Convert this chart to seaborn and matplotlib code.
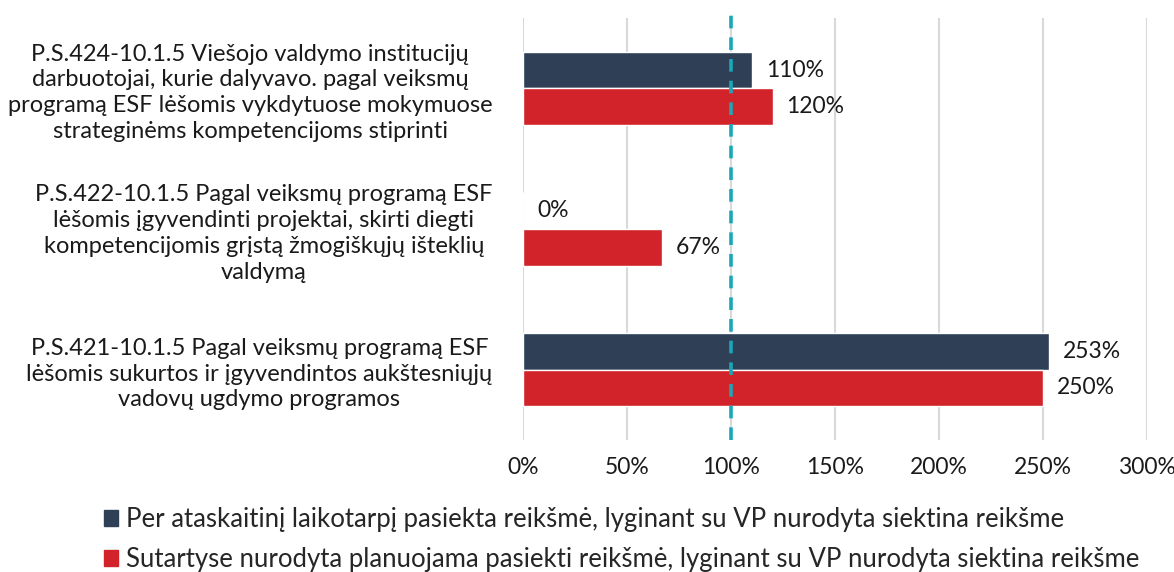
import pandas as pd
import numpy as np
import matplotlib
matplotlib.use("Agg")
import matplotlib.pyplot as plt
import seaborn as sns

# Données
categories = [
    "P.S.424-10.1.5 Viešojo valdymo institucijų\ndarbuotojai, kurie dalyvavo. pagal veiksmų\nprogramą ESF lėšomis vykdytuose mokymuose\nstrateginėms kompetencijoms stiprinti",
    "P.S.422-10.1.5 Pagal veiksmų programą ESF\nlėšomis įgyvendinti projektai, skirti diegti\nkompetencijomis grįstą žmogiškųjų išteklių\nvaldymą",
    "P.S.421-10.1.5 Pagal veiksmų programą ESF\nlėšomis sukurtos ir įgyvendintos aukštesniųjų\nvadovų ugdymo programos",
]
series = [
    "Per ataskaitinį laikotarpį pasiekta reikšmė, lyginant su VP nurodyta siektina reikšme",
    "Sutartyse nurodyta planuojama pasiekti reikšmė, lyginant su VP nurodyta siektina reikšme",
]
pasiekta = [1.10, 0.00, 2.53]
planuojama = [1.20, 0.67, 2.50]
colors = ["#2E3F56", "#D2232A"]
xticks = [0, 0.5, 1.0, 1.5, 2.0, 2.5, 3.0]

df = pd.DataFrame({
    "cat": categories * 2,
    "serie": [series[0]] * 3 + [series[1]] * 3,
    "val": pasiekta + planuojama,
})

sns.set_style("white")
plt.rcParams["font.family"] = ["Lato", "DejaVu Sans"]
plt.rcParams["font.size"] = 16.5

fig = plt.figure(figsize=(11.74, 5.72), dpi=100)
ax = fig.add_axes([523 / 1174, 1 - 440 / 572, (1147 - 523) / 1174, (440 - 18) / 572])

sns.barplot(data=df, y="cat", x="val", hue="serie", order=categories,
            hue_order=series, palette=colors, orient="h", width=0.52,
            saturation=1, ax=ax, legend=False)

# Valeurs au bout des barres
for cont in ax.containers:
    ax.bar_label(cont, fmt=lambda v: f"{v:.0%}", padding=10, fontsize=16.5, color="#1a1a1a")

ax.set_xlim(0, 3)
ax.set_xticks(xticks)
ax.set_xticklabels([f"{t:.0%}" for t in xticks])
ax.set_xlabel("")
ax.set_ylabel("")
ax.xaxis.grid(True, color="#D9D9D9", linewidth=1.5)
ax.set_axisbelow(True)
for s in ax.spines.values():
    s.set_visible(False)
ax.tick_params(axis="both", length=0, colors="#1a1a1a")
ax.tick_params(axis="x", pad=12)
ax.tick_params(axis="y", pad=22)
for lab in ax.get_yticklabels():
    lab.set_multialignment("center")
    lab.set_linespacing(1.28)
    lab.set_fontsize(17)

# Ligne cible 100%
ax.axvline(1.0, ymin=0, ymax=1.02, color="#1AA7B8", linewidth=2.6,
           linestyle=(0, (3.5, 2.5)), clip_on=False, zorder=3)

# Légende
handles = [plt.Rectangle((0, 0), 1, 1, color=c) for c in colors]
fig.legend(handles, series, loc="upper left", bbox_to_anchor=(94 / 1174, 1 - 497 / 572),
           frameon=False, ncol=1, handlelength=0.55, handleheight=0.55,
           handletextpad=0.3, labelspacing=0.58, fontsize=18.5, borderaxespad=0)

fig.savefig("out.png", dpi=100)
